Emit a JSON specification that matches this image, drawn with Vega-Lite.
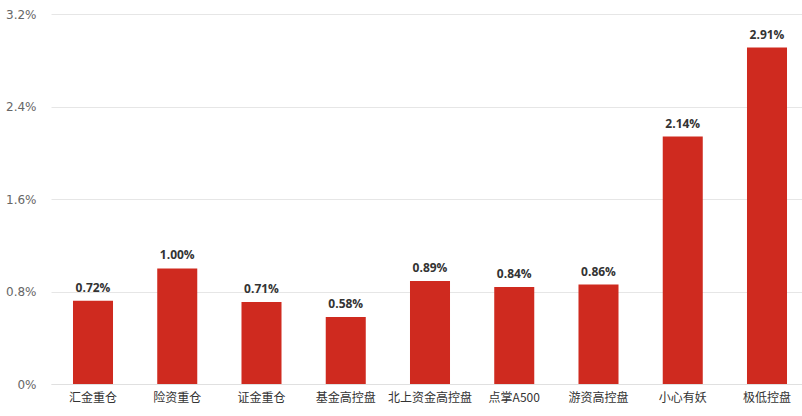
{
  "$schema": "https://vega.github.io/schema/vega-lite/v6.json",
  "autosize": {"type": "none"},
  "width": 758,
  "height": 370,
  "padding": {"left": 51, "top": 14, "right": 0, "bottom": 32},
  "background": "#ffffff",
  "config": {
    "view": {"stroke": null},
    "font": "Noto Sans CJK SC"
  },
  "data": {
    "values": [
      {"name": "汇金重仓", "value": 0.0072},
      {"name": "险资重仓", "value": 0.0100},
      {"name": "证金重仓", "value": 0.0071},
      {"name": "基金高控盘", "value": 0.0058},
      {"name": "北上资金高控盘", "value": 0.0089},
      {"name": "点掌A500", "value": 0.0084},
      {"name": "游资高控盘", "value": 0.0086},
      {"name": "小心有妖", "value": 0.0214},
      {"name": "极低控盘", "value": 0.0291}
    ]
  },
  "encoding": {
    "x": {
      "field": "name",
      "type": "nominal",
      "sort": null,
      "scale": {"paddingInner": 0.525, "paddingOuter": 0.261},
      "axis": {
        "title": null,
        "labelAngle": 0,
        "ticks": false,
        "domain": true,
        "domainColor": "#e0e0e0",
        "labelColor": "#333333",
        "labelFontSize": 12,
        "labelPadding": 8,
        "labelFont": "Noto Sans CJK SC"
      }
    },
    "y": {
      "field": "value",
      "type": "quantitative",
      "scale": {"domain": [0, 0.032], "nice": false},
      "axis": {
        "title": null,
        "values": [0, 0.008, 0.016, 0.024, 0.032],
        "labelExpr": "datum.value == 0 ? '0%' : format(datum.value, '.1%')",
        "ticks": false,
        "domain": false,
        "gridColor": "#e6e6e6",
        "labelColor": "#666666",
        "labelFontSize": 12,
        "labelPadding": 15,
        "labelFont": "DejaVu Sans"
      }
    }
  },
  "layer": [
    {
      "mark": {"type": "bar", "color": "#CF2A1F"}
    },
    {
      "mark": {
        "type": "text",
        "baseline": "bottom",
        "dy": -6,
        "fontWeight": "bold",
        "fontSize": 12,
        "color": "#333333",
        "font": "Open Sans"
      },
      "encoding": {
        "text": {"field": "value", "type": "quantitative", "format": ".2%"}
      }
    }
  ]
}
